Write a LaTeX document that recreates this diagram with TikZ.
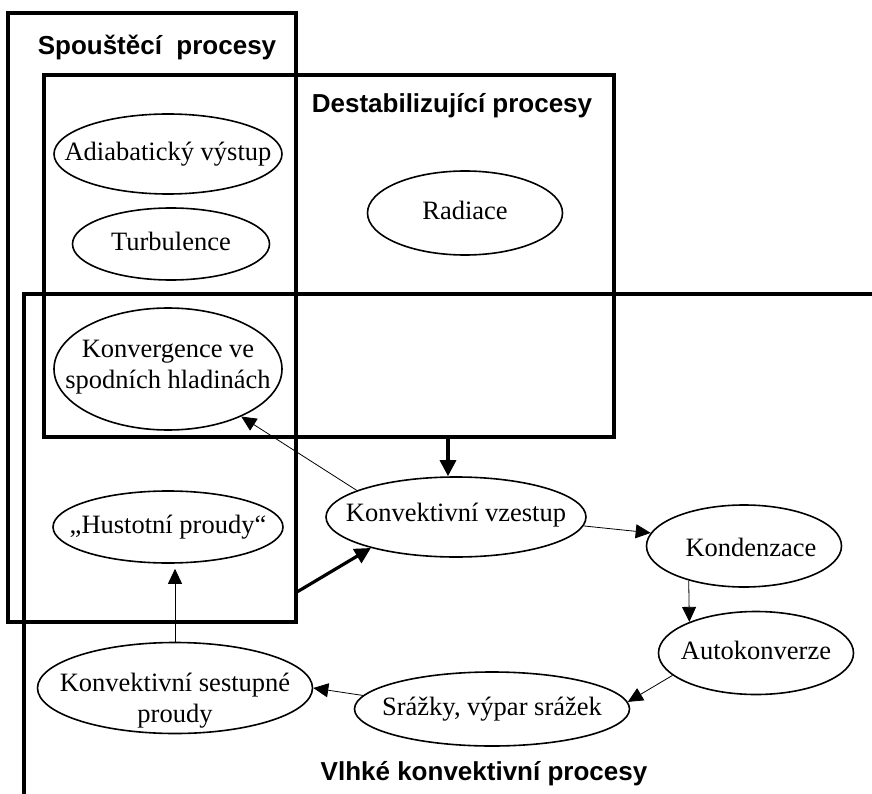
\documentclass[tikz,border=0pt]{standalone}
\usepackage{fontspec}
\setmainfont{Liberation Serif}
\setsansfont{Liberation Sans}
\usetikzlibrary{shapes.geometric, arrows.meta}
\newcommand{\ctext}[2][0pt]{\makebox[0pt]{\raisebox{#1}[\height][\depth]{\begin{tabular}{@{}c@{}}#2\end{tabular}}}}

\begin{document}
\begin{tikzpicture}[x=1pt, y=-1pt,
    proc/.style={ellipse, draw, line width=1.6pt, fill=white, inner sep=0pt,
        font=\fontsize{26.5}{31}\selectfont},
    procbox/.style={draw, line width=3.2pt, inner sep=0pt},
    boxtitle/.style={font=\sffamily\bfseries\fontsize{26}{31}\selectfont,
        anchor=base, inner sep=0pt},
    flow/.style={-{Triangle[length=15pt,width=14pt]}, line width=0.8pt},
    push/.style={-{Triangle[length=16pt,width=16pt]}, line width=3.2pt}]
    \useasboundingbox (0,0) rectangle (872,794);

    % process groups
    \node[procbox, minimum width=288, minimum height=609] (spoust) at (152,317.5) {};
    \node[procbox, minimum width=570, minimum height=362] (destab) at (329,256) {};
    \coordinate (vlhkeTR) at (872,294);
    \coordinate (vlhkeTL) at (24,294);
    \coordinate (vlhkeBL) at (24,794);
    \draw[line width=3.2pt] (vlhkeTR) -- (vlhkeTL) -- (vlhkeBL);
    \coordinate (destabout) at ([xshift=119pt]destab.south);
    \coordinate (spoustout) at ([yshift=32pt]spoust.south east);

    \node[boxtitle] (spousttitle) at (157,55) {Spouštěcí~ procesy};
    \node[boxtitle] (destabtitle) at (452,113) {Destabilizující procesy};
    \node[boxtitle] (vlhketitle)  at (484,780) {Vlhké konvektivní procesy};

    % processes
    \node[proc, minimum width=228, minimum height=80]  (adiab)    at (168,154) {\ctext{Adiabatický výstup}};
    \node[proc, minimum width=197, minimum height=72]  (turb)     at (171,244) {\ctext{Turbulence}};
    \node[proc, minimum width=228, minimum height=122] (konverg)  at (168,369) {\ctext[2pt]{Konvergence ve\\spodních hladinách}};
    \node[proc, minimum width=230, minimum height=72]  (husto)    at (168,527) {\ctext{„Hustotní proudy“}};
    \node[proc, minimum width=195, minimum height=84]  (radiace)  at (465,213) {\ctext{Radiace}};
    \node[proc, minimum width=260, minimum height=80]  (vzestup)  at (456,517) {\ctext[2pt]{Konvektivní vzestup}};
    \node[proc, minimum width=195, minimum height=82]  (kondenz)  at (744,546) {\ctext[-4pt]{\hspace{14pt}Kondenzace}};
    \node[proc, minimum width=195, minimum height=83]  (autokonv) at (756,653) {\ctext{Autokonverze}};
    \node[proc, minimum width=275, minimum height=74]  (srazky)   at (492,709) {\ctext{Srážky, výpar srážek}};
    \node[proc, minimum width=275, minimum height=91]  (sestup)   at (175,688) {\ctext[-13pt]{Konvektivní sestupné\\proudy}};

    % links
    \draw[push] (destabout) -- (destabout |- vzestup.north);
    \draw[push] (spoustout) -- (vzestup.200);
    \draw[flow] (vzestup.165) -- (konverg.327);
    \draw[flow] (vzestup.-4) -- (kondenz.172);
    \draw[flow] (kondenz.212) -- (autokonv.155);
    \draw[flow] (autokonv.195) -- (srazky.3);
    \draw[flow] (srazky.174) -- (sestup.east);
    \draw[flow, shorten >=5pt] (sestup.north) -- (sestup.north |- husto.south);
\end{tikzpicture}
\end{document}
